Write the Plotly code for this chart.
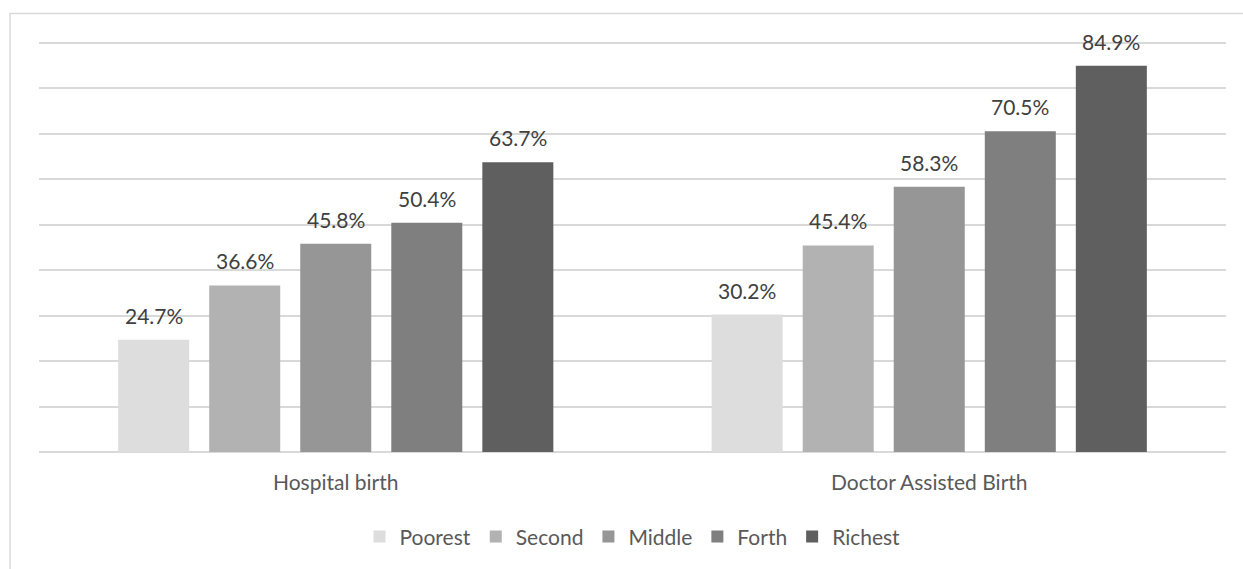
import plotly.graph_objects as go

# Births by wealth quintile (percent)
categories = ["Hospital birth", "Doctor Assisted Birth"]
quintiles = ["Poorest", "Second", "Middle", "Forth", "Richest"]
poorest = [24.7, 30.2]
second = [36.6, 45.4]
middle = [45.8, 58.3]
forth = [50.4, 70.5]
richest = [63.7, 84.9]
series = [poorest, second, middle, forth, richest]

colors = ["#DDDDDD", "#B2B2B2", "#969696", "#7F7F7F", "#5F5F5F"]
FONT = "Lato, 'Open Sans', sans-serif"
BARGAP = 0.233
BARGROUPGAP = 0.22
YMAX = 91

fig = go.Figure()
for name, vals, col in zip(quintiles, series, colors):
    fig.add_trace(go.Bar(
        name=name, x=categories, y=vals,
        marker=dict(color=col, line=dict(width=0)),
        hoverinfo="x+y+name",
    ))

# value labels placed above each bar, aligned with the grouped slots
n = len(series)
slot = (1 - BARGAP) / n
annotations = []
for ti, vals in enumerate(series):
    for ci, v in enumerate(vals):
        annotations.append(dict(
            x=ci + (ti - (n - 1) / 2) * slot, y=v, xref="x", yref="y",
            text=f"{v:.1f}%", showarrow=False, yanchor="bottom", yshift=10,
            font=dict(family=FONT, size=21, color="#404040"),
        ))

fig.update_layout(
    width=1243, height=569,
    margin=dict(l=39, r=17, t=38, b=117),
    paper_bgcolor="white", plot_bgcolor="white",
    barmode="group", bargap=BARGAP, bargroupgap=BARGROUPGAP,
    font=dict(family=FONT, size=21, color="#595959"),
    annotations=annotations,
    showlegend=True,
    legend=dict(orientation="h", x=0.5, xanchor="center", y=-0.205, yanchor="middle",
                font=dict(family=FONT, size=21, color="#595959"),
                itemwidth=30, tracegroupgap=0),
    xaxis=dict(showgrid=False, ticks="", showline=False, zeroline=False,
               tickfont=dict(family=FONT, size=21, color="#595959"),
               ticklabelstandoff=16),
    yaxis=dict(range=[0, YMAX], dtick=10, showticklabels=False, ticks="",
               showgrid=True, gridcolor="#D9D9D9", gridwidth=1.5,
               zeroline=True, zerolinecolor="#D9D9D9", zerolinewidth=2,
               showline=False),
    shapes=[dict(type="rect", xref="paper", yref="paper",
                 x0=-0.0244, x1=1.05, y0=-0.4, y1=1.059,
                 line=dict(color="#D9D9D9", width=1.5), layer="below")],
)

fig.write_html("out.html")
